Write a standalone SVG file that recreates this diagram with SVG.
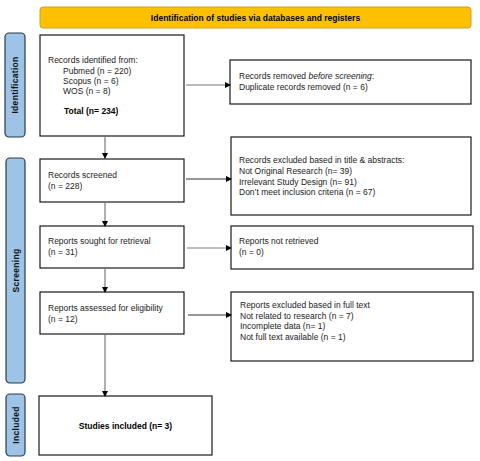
<svg xmlns="http://www.w3.org/2000/svg" width="480" height="461" viewBox="0 0 480 461">
<defs>
<marker id="ah" markerWidth="6" markerHeight="6" refX="5" refY="3" orient="auto" markerUnits="userSpaceOnUse">
<path d="M0,0 L6,3 L0,6 Z" fill="#000"/>
</marker>
<style>
.box{fill:#fff;stroke:#1a1a1a;stroke-width:1.2}
.side{fill:#9dc3e6;stroke:#2e3a4a;stroke-width:1.2}
.hdr{fill:#ffc000;stroke:#c9a227;stroke-width:1}
.t{font-family:"Liberation Sans",Arial,sans-serif;font-size:8.5px;fill:#222}
.b{font-weight:bold;fill:#000}
.st{font-family:"Liberation Sans",Arial,sans-serif;font-size:8.5px;font-weight:bold;letter-spacing:0.3px;fill:#111}
.c{stroke:#7a7a7a;stroke-width:1.2;fill:none;marker-end:url(#ah)}
</style>
</defs>
<rect width="480" height="461" fill="#fff"/>
<g id="header">
<rect class="hdr" x="40" y="7" width="431" height="21" rx="3"/>
<text class="t b" x="255.5" y="20.5" text-anchor="middle">Identification of studies via databases and registers</text>
</g>
<g id="side-identification">
<rect class="side" x="5" y="33" width="20" height="104" rx="4"/>
<text class="st" transform="translate(18,85) rotate(-90)" text-anchor="middle">Identification</text>
</g>
<g id="side-screening">
<rect class="side" x="6" y="158" width="19" height="225" rx="4"/>
<text class="st" transform="translate(18.5,270.5) rotate(-90)" text-anchor="middle">Screening</text>
</g>
<g id="side-included">
<rect class="side" x="6" y="394" width="19" height="62" rx="4"/>
<text class="st" transform="translate(18.5,425) rotate(-90)" text-anchor="middle">Included</text>
</g>
<g id="records-identified">
<rect class="box" x="40" y="35" width="144" height="101"/>
<text class="t" x="48" y="63">Records identified from:</text>
<text class="t" x="63" y="74">Pubmed (n = 220)</text>
<text class="t" x="63" y="84">Scopus (n = 6)</text>
<text class="t" x="63" y="94">WOS (n = 8)</text>
<text class="t b" x="64" y="114">Total (n= 234)</text>
</g>
<g id="records-removed">
<rect class="box" x="230" y="60" width="241" height="44"/>
<text class="t" x="239" y="79">Records removed <tspan font-style="italic">before screening</tspan>:</text>
<text class="t" x="239" y="90">Duplicate records removed (n = 6)</text>
</g>
<g id="records-screened">
<rect class="box" x="40" y="159" width="144" height="43"/>
<text class="t" x="48" y="178">Records screened</text>
<text class="t" x="48" y="189">(n = 228)</text>
</g>
<g id="records-excluded">
<rect class="box" x="231" y="137" width="240" height="78"/>
<text class="t" x="239" y="163">Records excluded based in title &amp; abstracts:</text>
<text class="t" x="239" y="174">Not Original Research (n= 39)</text>
<text class="t" x="239" y="184.5">Irrelevant Study Design (n= 91)</text>
<text class="t" x="239" y="195">Don’t meet inclusion criteria (n = 67)</text>
</g>
<g id="reports-sought">
<rect class="box" x="40" y="226" width="144" height="42"/>
<text class="t" x="48" y="244">Reports sought for retrieval</text>
<text class="t" x="48" y="255">(n = 31)</text>
</g>
<g id="reports-not-retrieved">
<rect class="box" x="231" y="226" width="242" height="43"/>
<text class="t" x="239" y="244">Reports not retrieved</text>
<text class="t" x="239" y="255">(n = 0)</text>
</g>
<g id="reports-assessed">
<rect class="box" x="40" y="292" width="144" height="42"/>
<text class="t" x="48" y="311">Reports assessed for eligibility</text>
<text class="t" x="48" y="322">(n = 12)</text>
</g>
<g id="reports-excluded">
<rect class="box" x="231" y="292" width="242" height="69"/>
<text class="t" x="240" y="308">Reports excluded based in full text</text>
<text class="t" x="240" y="318.5">Not related to research (n = 7)</text>
<text class="t" x="240" y="329">Incomplete data (n= 1)</text>
<text class="t" x="240" y="339.5">Not full text available (n = 1)</text>
</g>
<g id="studies-included">
<rect class="box" x="39" y="396" width="173" height="59"/>
<text class="t b" x="125.5" y="429" text-anchor="middle">Studies included (n= 3)</text>
</g>
<g id="connectors">
<line class="c" x1="186" y1="85" x2="230" y2="85"/>
<line class="c" x1="186" y1="179" x2="231" y2="179" style="stroke:#333"/>
<line class="c" x1="187" y1="248" x2="231" y2="248"/>
<line class="c" x1="188" y1="315" x2="231" y2="315" style="stroke:#333"/>
<line class="c" x1="105" y1="136" x2="105" y2="158"/>
<line class="c" x1="105" y1="202" x2="105" y2="226"/>
<line class="c" x1="105" y1="268" x2="105" y2="292"/>
<line class="c" x1="105" y1="334" x2="105" y2="396"/>
</g>
</svg>
